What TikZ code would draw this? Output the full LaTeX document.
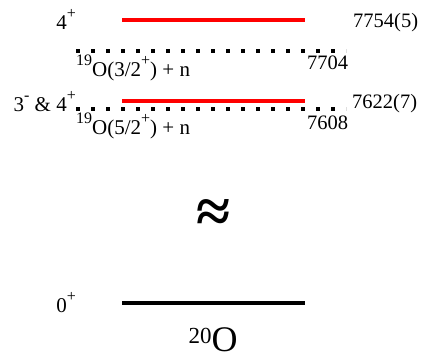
\documentclass[tikz,border=0pt]{standalone}
\usepackage{fontspec}
\setmainfont{Liberation Serif}
\usepackage{tikz}
\newcommand{\hoch}[1]{\raisebox{11pt}{\fontsize{16}{18}\selectfont #1}}

\begin{document}
\begin{tikzpicture}[
      x=1pt, y=1pt,
      niveau/.style={line width=4.5pt},
      schwelle/.style={line width=3.5pt, dash pattern=on 3.5pt off 11.5pt},
      spin/.style={font=\fontsize{21}{24}\selectfont, anchor=base east, inner sep=0pt},
      energie/.style={font=\fontsize{20.5}{24}\selectfont, anchor=base west, inner sep=0pt}
    ]
    \useasboundingbox (0,0) rectangle (423,353);
    \def\XL{122}  % linker Rand der Niveaus
    \def\XR{305}  % rechter Rand der Niveaus
    \def\SL{76}   % linker Rand der Schwellen
    \def\SR{346}  % rechter Rand der Schwellen

    % ---------- Niveaus oberhalb der Schwellen ----------
    \coordinate (n1a) at (\XL,333);
    \coordinate (n1b) at (\XR,333);
    \draw[niveau, red] (n1a) -- (n1b);
    \node[spin] (j1) at (76,323) {4\hoch{+}};
    \node[energie] (e1) at (353,325) {7754(5)};

    \coordinate (n2a) at (\XL,252);
    \coordinate (n2b) at (\XR,252);
    \draw[niveau, red] (n2a) -- (n2b);
    \node[spin] (j2) at (76,241) {3\hoch{-} \& 4\hoch{+}};
    \node[energie] (e2) at (352,244) {7622(7)};

    % ---------- Neutronenschwellen ----------
    \coordinate (s1a) at (\SL,302);
    \coordinate (s1b) at (\SR,302);
    \draw[schwelle] (s1a) -- (s1b);
    \node[energie, font=\fontsize{21}{24}\selectfont] (k1) at (\SL,276) {\hoch{19}O(3/2\hoch{+}) + n};
    \node[energie] (w1) at (307,283) {7704};

    \coordinate (s2a) at (\SL,244);
    \coordinate (s2b) at (\SR,244);
    \draw[schwelle] (s2a) -- (s2b);
    \node[energie, font=\fontsize{21}{24}\selectfont] (k2) at (\SL,218) {\hoch{19}O(5/2\hoch{+}) + n};
    \node[energie] (w2) at (307,223) {7608};

    % ---------- Achsenbruch ----------
    \node[font=\fontsize{62}{70}\selectfont\bfseries, inner sep=0pt] (bruch) at (214,137) {≈};

    % ---------- Grundzustand ----------
    \coordinate (g1a) at (\XL,50);
    \coordinate (g1b) at (\XR,50);
    \draw[niveau, black] (g1a) -- (g1b);
    \node[spin] (j0) at (76,40) {0\hoch{+}};
    \node[anchor=base, inner sep=0pt] (kern) at (213,1)
      {\raisebox{8.5pt}{\fontsize{23}{26}\selectfont 20}\fontsize{36}{40}\selectfont O};
  \end{tikzpicture}
\end{document}
